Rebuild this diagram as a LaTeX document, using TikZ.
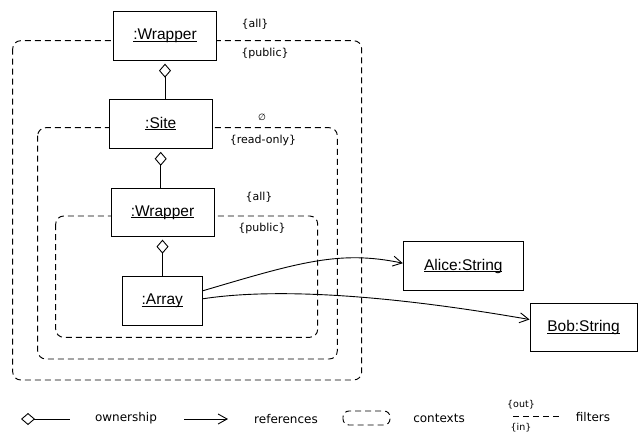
\documentclass[tikz,border=0pt]{standalone}
\usepackage{fontspec}
\setmainfont{Liberation Sans}
\newfontfamily\labfont{DejaVu Sans}
\usetikzlibrary{arrows.meta}
\newcommand\uln[1]{\setbox0\hbox{#1}\rlap{\rule[-1.7pt]{\wd0}{0.7pt}}\box0}
\begin{document}
\begin{tikzpicture}[x=1pt,y=-1pt,
  obj/.style={draw, fill=white, line width=0.9pt, inner sep=0pt, font=\fontsize{15.5}{18}\selectfont},
  ctx/.style={draw, dash pattern=on 6pt off 4pt, line width=0.95pt, rounded corners=8pt},
  lab/.style={font=\labfont\fontsize{11}{13}\selectfont, inner sep=0pt},
  leg/.style={font=\labfont\fontsize{12}{14}\selectfont, inner sep=0pt},
  own/.style={{Diamond[open,length=14pt,width=12pt]}-, line width=0.9pt},
  ref/.style={-{Straight Barb[length=9pt,width=10pt]}, line width=0.9pt}]
\useasboundingbox (0,0) rectangle (638,432);
% contexts
\draw[ctx] (12.7,40.7) rectangle (361.7,380);
\draw[ctx] (37.7,127.7) rectangle (337.3,359);
\draw[ctx] (55.7,216) rectangle (317.7,337.3);
% objects
\node[obj, minimum width=103pt, minimum height=49pt] (w1) at (165,36.2) {\uln{:Wrapper}};
\node[obj, minimum width=102.7pt, minimum height=49.3pt] (site) at (160.7,123.7) {\uln{:Site}};
\node[obj, minimum width=103pt, minimum height=48.4pt] (w2) at (162.5,212.5) {\uln{:Wrapper}};
\node[obj, minimum width=80pt, minimum height=48.3pt] (arr) at (162.3,300.8) {\uln{:Array}};
\node[obj, minimum width=120pt, minimum height=49pt] (alice) at (463.3,266.2) {\uln{Alice:String}};
\node[obj, minimum width=107pt, minimum height=48.4pt] (bob) at (583.5,327.5) {\uln{Bob:String}};
% ownership
\draw[own, shorten <=2.5pt] (w1.south) -- (w1.south |- site.north);
\draw[own, shorten <=3pt] (site.south) -- (site.south |- w2.north);
\draw[own, shorten <=2.5pt] (w2.south) -- (w2.south |- arr.north);
% references
\draw[ref] ([yshift=10pt]arr.east) .. controls (300,262) and (340,250) .. ([yshift=3pt]alice.west);
\draw[ref] ([yshift=2pt]arr.east) .. controls (260,290) and (360,290) .. ([yshift=8pt]bob.west);
% filter labels
\node[lab] (l1) at (255,24) {\{all\}};
\node[lab] (l2) at (265,53) {\{public\}};
\node[lab, font=\labfont\fontsize{9}{11}\selectfont] (l3) at (262,117) {∅};
\node[lab] (l4) at (263,140) {\{read-only\}};
\node[lab] (l5) at (259,197) {\{all\}};
\node[lab] (l6) at (262,228) {\{public\}};
% legend
\coordinate (o1) at (21,419);
\coordinate (o2) at (70,419);
\draw[own] (o1) -- (o2);
\node[leg] (lo) at (126,418) {ownership};
\coordinate (r1) at (184,419);
\coordinate (r2) at (228,419);
\draw[ref] (r1) -- (r2);
\node[leg] (lr) at (286,419) {references};
\draw[ctx, rounded corners=6pt] (343,411) rectangle (390,425);
\node[leg] (lc) at (439,418) {contexts};
\coordinate (f1) at (513,416);
\coordinate (f2) at (561,416);
\draw[dash pattern=on 6pt off 4pt, line width=0.95pt] (f1) -- (f2);
\node[lab, font=\labfont\fontsize{9.5}{11}\selectfont] (fo) at (521,405) {\{out\}};
\node[lab, font=\labfont\fontsize{9.5}{11}\selectfont] (fi) at (521,428) {\{in\}};
\node[leg] (lf) at (593,417) {filters};
\end{tikzpicture}
\end{document}
